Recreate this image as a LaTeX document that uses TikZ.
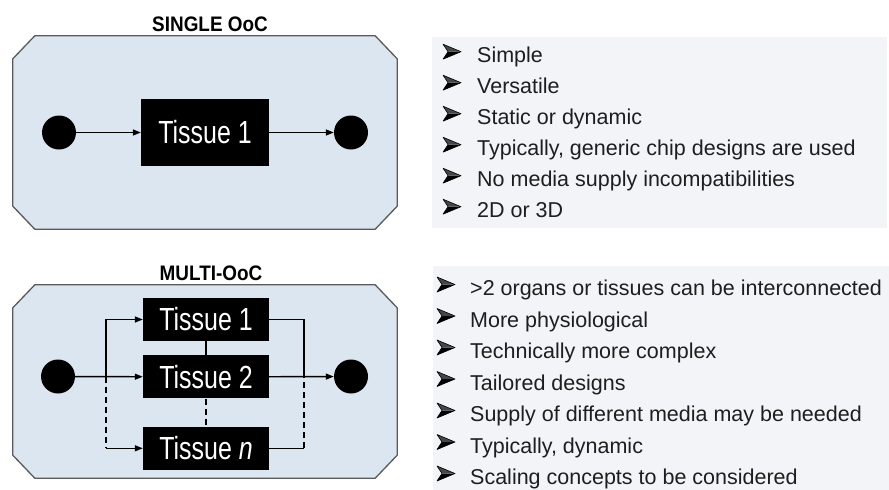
\documentclass[tikz,border=0pt]{standalone}
\usepackage{fontspec}
\setmainfont{Liberation Sans}
\newfontfamily\narrowfont[FakeStretch=0.78]{Liberation Sans}
\newfontfamily\titlefont[FakeStretch=0.9]{Liberation Sans}
\usetikzlibrary{arrows.meta,positioning}
\definecolor{chipblue}{HTML}{DCE6F1}
\definecolor{chipline}{HTML}{5A5A5A}
\definecolor{panelgray}{HTML}{F3F4F8}
\definecolor{textdark}{HTML}{1E1E1E}
\tikzset{arrowbullet/.pic={
    \fill[black] (5,0) -- (18,0) -- (0,7.5) -- cycle;
    \fill[gray!55!black] (0,-7.5) -- (18,0) -- (5,0) -- cycle;
    \draw[black, line width=0.6pt, line join=round] (0,-7.5) -- (18,0) -- (0,7.5) -- (5,0) -- cycle;}}
\begin{document}
\begin{tikzpicture}[x=1pt,y=-1pt,
    chip/.style={minimum width=384pt, minimum height=193pt, inner sep=0pt},
    chipedge/.style={draw=chipline, line width=1.3pt, fill=chipblue, line join=round},
    tissue/.style={fill=black, text=white, inner sep=0pt,
      font=\narrowfont\fontsize{32}{32}\selectfont},
    sink/.style={circle, fill=black, minimum size=34pt, inner sep=0pt},
    flow/.style={line width=1.4pt, -{Triangle[length=8pt,width=6pt]}},
    link/.style={line width=1.4pt},
    gap/.style={line width=1.4pt, dash pattern=on 6pt off 4pt},
    panel/.style={fill=panelgray, inner sep=0pt},
    item/.style={anchor=base west, inner sep=0pt, text=textdark,
      font=\fontsize{21.5}{31}\selectfont},
    title/.style={inner sep=0pt, font=\titlefont\bfseries\fontsize{21}{21}\selectfont}]
    \useasboundingbox (0,0) rectangle (889,490);
    % chip outlines
    \node[chip] (chipA) at (205,132.5) {};
    \node[chip] (chipB) at (205,381.5) {};
    \foreach \c in {chipA,chipB}
      \draw[chipedge] ([xshift=22pt]\c.north west) -- ([xshift=-22pt]\c.north east)
        -- ([yshift=-23pt]\c.north east) -- ([yshift=23pt]\c.south east)
        -- ([xshift=-22pt]\c.south east) -- ([xshift=22pt]\c.south west)
        -- ([yshift=23pt]\c.south west) -- ([yshift=-23pt]\c.north west) -- cycle;
    % single organ chip
    \node[title] (titleA) at (210,24) {SINGLE OoC};
    \node[tissue, minimum width=128pt, minimum height=67pt] (t1) at (205,132.5) {Tissue 1};
    \node[sink] (inA) at (59,132.5) {};
    \node[sink] (outA) at (351,132.5) {};
    \draw[flow] (inA) -- (t1);
    \draw[flow] (t1) -- (outA);
    % multi organ chip
    \node[title] (titleB) at (211,273) {MULTI-OoC};
    \begin{scope}[every node/.append style={minimum width=126pt, minimum height=43pt}]
      \node[tissue] (m1) at (206,319.5) {Tissue 1};
      \node[tissue, below=14pt of m1] (m2) {Tissue 2};
      \node[tissue, below=28pt of m2] (mn) {Tissue \textit{n}};
    \end{scope}
    \node[sink] (inB) at (58,376.5) {};
    \node[sink] (outB) at (351,376.5) {};
    \coordinate (sp) at (106,376.5);
    \coordinate (jn) at (304,376.5);
    \draw[flow] (inB) -- (m2);
    \draw[flow] (sp) |- (m1.west);
    \draw[gap] (sp) -- (sp |- mn.west);
    \draw[flow] (sp |- mn.west) -- (mn.west);
    \draw[link] (m1.east) -| (jn);
    \draw[flow] (m2) -- (outB);
    \draw[link] (mn.east) -- (mn.east -| jn);
    \draw[gap] (mn.east -| jn) -- (jn);
    \draw[link] (m1) -- (m2);
    \draw[gap] (m2) -- (mn);
    % lists
    \node[panel, minimum width=455pt, minimum height=191pt] (listA) at (659.5,132.5) {};
    \foreach \txt [count=\i] in {Simple, Versatile, Static or dynamic,
        {Typically, generic chip designs are used},
        No media supply incompatibilities, 2D or 3D} {
      \node[item] (pro\i) at (477,{62.7+31*(\i-1)}) {\txt};
      \pic at ([xshift=-34pt,yshift=11pt]pro\i.base west) {arrowbullet};
    }
    \node[panel, minimum width=456pt, minimum height=224pt] (listB) at (661,378) {};
    \foreach \txt [count=\i] in {>2 organs or tissues can be interconnected,
        More physiological, Technically more complex, Tailored designs,
        Supply of different media may be needed, {Typically, dynamic},
        Scaling concepts to be considered} {
      \node[item] (con\i) at (470,{295.5+31.5*(\i-1)}) {\txt};
      \pic at ([xshift=-33pt,yshift=11pt]con\i.base west) {arrowbullet};
    }
\end{tikzpicture}
\end{document}
